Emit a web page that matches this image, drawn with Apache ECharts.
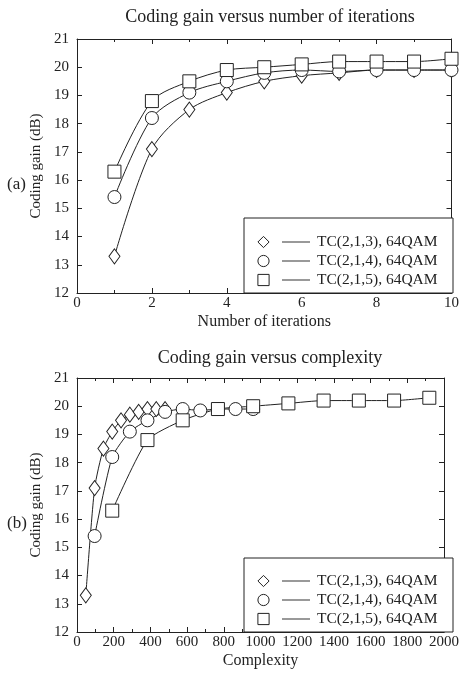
<!DOCTYPE html>
<html>
<head>
<meta charset="utf-8">
<script src="https://cdn.jsdelivr.net/npm/echarts@6/dist/echarts.min.js"></script>
<style>
  html, body { margin: 0; padding: 0; background: #fff; }
  #chart { width: 462px; height: 674px; }
</style>
</head>
<body>
<div id="chart"></div>
<script>
// iterations 1..10
const iterations = [1, 2, 3, 4, 5, 6, 7, 8, 9, 10];
const names = ["TC(2,1,3), 64QAM", "TC(2,1,4), 64QAM", "TC(2,1,5), 64QAM"];
const gain213 = [13.3, 17.1, 18.5, 19.1, 19.5, 19.7, 19.8, 19.9, 19.9, 19.9];
const gain214 = [15.4, 18.2, 19.1, 19.5, 19.8, 19.9, 19.85, 19.9, 19.9, 19.9];
const gain215 = [16.3, 18.8, 19.5, 19.9, 20.0, 20.1, 20.2, 20.2, 20.2, 20.3];
// complexity per point
const cplx213 = [48, 96, 144, 192, 240, 288, 336, 384, 432, 480];
const cplx214 = [96, 192, 288, 384, 480, 576, 672, 768, 864, 960];
const cplx215 = [192, 384, 576, 768, 960, 1152, 1344, 1536, 1728, 1920];
const symbols = ["diamond", "circle", "rect"];
const symSizes = [[11, 15], 13, 13];

const font = "Liberation Serif";
const ink = "#222";

function pairs(xs, ys) {
  return xs.map((x, i) => [x, ys[i]]);
}

function axisX(grid, min, max, interval, name, show) {
  return {
    type: "value", gridIndex: grid, min: min, max: max, interval: interval,
    position: show ? "bottom" : "top",
    name: show ? name : "", nameLocation: "middle", nameGap: 21,
    nameTextStyle: { fontFamily: font, fontSize: 16, color: ink },
    axisLine: { show: true, onZero: false, lineStyle: { color: ink, width: 1 } },
    axisTick: { show: true, inside: true, length: 5, lineStyle: { color: ink } },
    minorTick: { show: true, splitNumber: 2, length: 3, lineStyle: { color: ink } },
    axisLabel: { show: show, margin: 3, fontFamily: font, fontSize: 15, color: ink,
      formatter: v => String(v) },
    splitLine: { show: false }
  };
}

function axisY(grid, show) {
  return {
    type: "value", gridIndex: grid, min: 12, max: 21, interval: 1,
    position: show ? "left" : "right",
    name: show ? "Coding gain (dB)" : "", nameLocation: "middle", nameGap: 22,
    nameTextStyle: { fontFamily: font, fontSize: 15, color: ink },
    axisLine: { show: true, onZero: false, lineStyle: { color: ink, width: 1 } },
    axisTick: { show: true, inside: true, length: 5, lineStyle: { color: ink } },
    axisLabel: { show: show, margin: 8, fontFamily: font, fontSize: 15, color: ink },
    splitLine: { show: false }
  };
}

function lineSeries(k, xi, yi, data, smooth) {
  return {
    name: names[k], type: "line", xAxisIndex: xi, yAxisIndex: yi,
    data: data, smooth: smooth,
    symbol: symbols[k], symbolSize: symSizes[k], showAllSymbol: true,
    lineStyle: { color: ink, width: 1 },
    itemStyle: { color: "#fff", borderColor: ink, borderWidth: 1 },
    z: 3
  };
}

function legend(top) {
  return {
    left: 252, top: top, orient: "vertical", itemGap: 3,
    itemWidth: 13, itemHeight: 14,
    data: names, selectedMode: false, z: 20,
    itemStyle: { borderWidth: 1 },
    lineStyle: { width: 0, opacity: 0 },
    formatter: "{g|}{l|}{g|}{t|{name}}",
    textStyle: {
      color: ink,
      rich: {
        g: { width: 7 },
        l: { width: 28, height: 1, backgroundColor: "#333" },
        t: { fontFamily: font, fontSize: 15.5, color: ink }
      }
    }
  };
}

const chart = echarts.init(document.getElementById("chart"));
chart.setOption({
  animation: false,
  backgroundColor: "#fff",
  title: [
    { text: "Coding gain versus number of iterations", left: 265, top: 3, textAlign: "center",
      textStyle: { fontFamily: font, fontSize: 18, fontWeight: "normal", color: ink } },
    { text: "Coding gain versus complexity", left: 265, top: 344, textAlign: "center",
      textStyle: { fontFamily: font, fontSize: 18, fontWeight: "normal", color: ink } }
  ],
  grid: [
    { left: 77, right: 9, top: 39, height: 254 },
    { left: 77, right: 9, top: 378, height: 254 }
  ],
  xAxis: [
    axisX(0, 0, 10, 2, "Number of iterations", true),
    axisX(0, 0, 10, 2, "", false),
    axisX(1, 0, 2000, 200, "Complexity", true),
    axisX(1, 0, 2000, 200, "", false)
  ],
  yAxis: [axisY(0, true), axisY(0, false), axisY(1, true), axisY(1, false)],
  legend: [legend(229), legend(568)],
  graphic: [
    { type: "rect", shape: { x: 244, y: 218, width: 209, height: 75 }, z: 10,
      style: { fill: "#fff", stroke: ink, lineWidth: 1 } },
    { type: "rect", shape: { x: 244, y: 558, width: 209, height: 74 }, z: 10,
      style: { fill: "#fff", stroke: ink, lineWidth: 1 } },
    { type: "text", left: 7, top: 176, z: 10,
      style: { text: "(a)", font: "17px " + font, fill: ink } },
    { type: "text", left: 7, top: 515, z: 10,
      style: { text: "(b)", font: "17px " + font, fill: ink } }
  ],
  series: [
    lineSeries(0, 0, 0, pairs(iterations, gain213), 0.3),
    lineSeries(1, 0, 0, pairs(iterations, gain214), 0.3),
    lineSeries(2, 0, 0, pairs(iterations, gain215), 0.3),
    lineSeries(0, 2, 2, pairs(cplx213, gain213), 0.2),
    lineSeries(1, 2, 2, pairs(cplx214, gain214), 0.2),
    lineSeries(2, 2, 2, pairs(cplx215, gain215), 0.2)
  ]
});
</script>
</body>
</html>
